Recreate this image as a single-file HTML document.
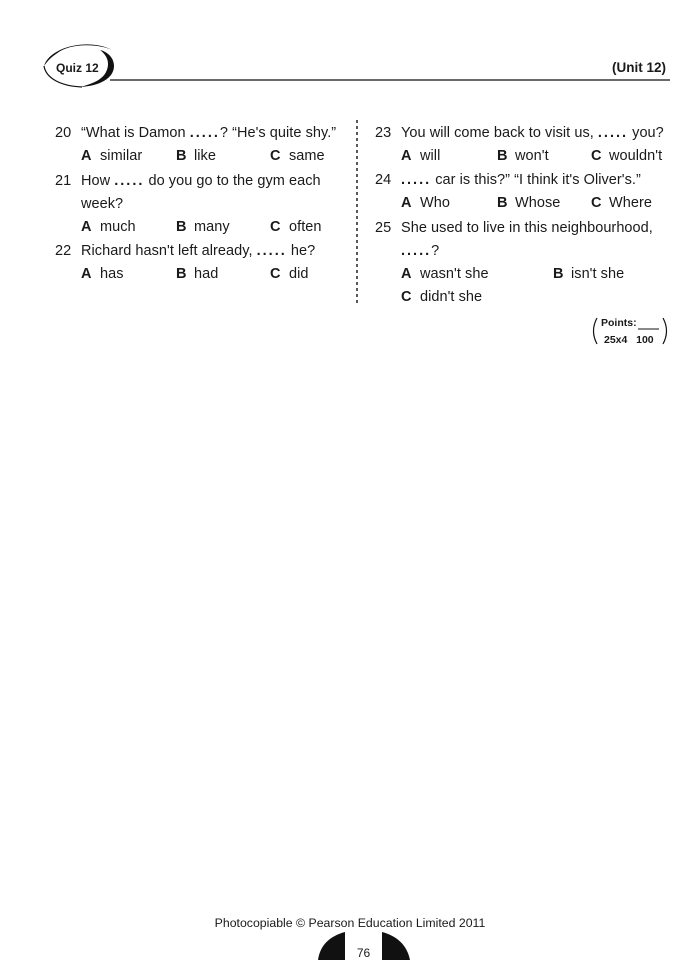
<!DOCTYPE html>
<html><head><meta charset="utf-8"><style>
html,body{margin:0;padding:0;background:#fff;}
body{width:700px;height:960px;position:relative;overflow:hidden;font-family:"Liberation Sans",Arial,sans-serif;color:#1a1a1a;}
.t{position:absolute;font-size:14.5px;letter-spacing:0.05px;white-space:nowrap;line-height:18px;}
b{font-weight:bold;}
.d{font-weight:bold;letter-spacing:2px;}
</style></head><body>
<svg width="700" height="960" style="position:absolute;left:0;top:0">
  <path d="M44 66 C 50 46, 90 38, 112 50 C 100 44, 70 42, 56 54 C 50 58, 47 62, 44 66 Z" fill="#111"/>
  <path d="M80 87 C 100 86, 114 78, 114 66 C 114 58, 108 52, 100 50 C 108 56, 110 64, 106 72 C 102 80, 92 84, 80 87 Z" fill="#111"/>
  <path d="M44 66 C 46 78, 60 86, 82 87" stroke="#111" stroke-width="1.2" fill="none"/>
  <line x1="110" y1="80" x2="670" y2="80" stroke="#111" stroke-width="1.3"/>
  <line x1="357" y1="120" x2="357" y2="305" stroke="#222" stroke-width="1.5" stroke-dasharray="3,3"/>
  <path d="M597 318 Q 590 331 597 344" stroke="#111" fill="none" stroke-width="1.2"/>
  <path d="M663 318 Q 670 331 663 344" stroke="#111" fill="none" stroke-width="1.2"/>
  <line x1="638" y1="329" x2="659" y2="329" stroke="#111" stroke-width="1"/>
  <path d="M318 960 C 320 945, 330 936, 345 932 L 345 960 Z" fill="#111"/>
  <path d="M382 960 L 382 932 C 397 936, 407 945, 410 960 Z" fill="#111"/>
</svg>
<div class="t" style="left:56px;top:59px;font-size:12px;font-weight:bold;letter-spacing:0">Quiz 12</div>
<div class="t" style="left:612px;top:59px;font-size:13.5px;font-weight:bold;letter-spacing:0">(Unit 12)</div>

<div class="t" style="left:55px;top:124px">20</div>
<div class="t" style="left:81px;top:124px">“What is Damon <span class="d">.....</span>? “He's quite shy.”</div>
<div class="t" style="left:81px;top:147px"><b>A</b></div><div class="t" style="left:100px;top:147px">similar</div>
<div class="t" style="left:176px;top:147px"><b>B</b></div><div class="t" style="left:194px;top:147px">like</div>
<div class="t" style="left:270px;top:147px"><b>C</b></div><div class="t" style="left:289px;top:147px">same</div>

<div class="t" style="left:55px;top:172px">21</div>
<div class="t" style="left:81px;top:172px">How <span class="d">.....</span> do you go to the gym each</div>
<div class="t" style="left:81px;top:195px">week?</div>
<div class="t" style="left:81px;top:218px"><b>A</b></div><div class="t" style="left:100px;top:218px">much</div>
<div class="t" style="left:176px;top:218px"><b>B</b></div><div class="t" style="left:194px;top:218px">many</div>
<div class="t" style="left:270px;top:218px"><b>C</b></div><div class="t" style="left:289px;top:218px">often</div>

<div class="t" style="left:55px;top:242px">22</div>
<div class="t" style="left:81px;top:242px">Richard hasn't left already, <span class="d">.....</span> he?</div>
<div class="t" style="left:81px;top:265px"><b>A</b></div><div class="t" style="left:100px;top:265px">has</div>
<div class="t" style="left:176px;top:265px"><b>B</b></div><div class="t" style="left:194px;top:265px">had</div>
<div class="t" style="left:270px;top:265px"><b>C</b></div><div class="t" style="left:289px;top:265px">did</div>

<div class="t" style="left:375px;top:124px">23</div>
<div class="t" style="left:401px;top:124px">You will come back to visit us, <span class="d">.....</span> you?</div>
<div class="t" style="left:401px;top:147px"><b>A</b></div><div class="t" style="left:420px;top:147px">will</div>
<div class="t" style="left:497px;top:147px"><b>B</b></div><div class="t" style="left:515px;top:147px">won't</div>
<div class="t" style="left:591px;top:147px"><b>C</b></div><div class="t" style="left:609px;top:147px">wouldn't</div>

<div class="t" style="left:375px;top:171px">24</div>
<div class="t" style="left:401px;top:171px"><span class="d">.....</span> car is this?” “I think it's Oliver's.”</div>
<div class="t" style="left:401px;top:194px"><b>A</b></div><div class="t" style="left:420px;top:194px">Who</div>
<div class="t" style="left:497px;top:194px"><b>B</b></div><div class="t" style="left:515px;top:194px">Whose</div>
<div class="t" style="left:591px;top:194px"><b>C</b></div><div class="t" style="left:609px;top:194px">Where</div>

<div class="t" style="left:375px;top:219px">25</div>
<div class="t" style="left:401px;top:219px">She used to live in this neighbourhood,</div>
<div class="t" style="left:401px;top:242px"><span class="d">.....</span>?</div>
<div class="t" style="left:401px;top:265px"><b>A</b></div><div class="t" style="left:420px;top:265px">wasn't she</div>
<div class="t" style="left:553px;top:265px"><b>B</b></div><div class="t" style="left:571px;top:265px">isn't she</div>
<div class="t" style="left:401px;top:288px"><b>C</b></div><div class="t" style="left:420px;top:288px">didn't she</div>

<div class="t" style="left:601px;top:317px;font-size:10.5px;font-weight:bold;line-height:12px;letter-spacing:0">Points:</div>
<div class="t" style="left:604px;top:334px;font-size:10.5px;font-weight:bold;line-height:12px;letter-spacing:0">25x4&nbsp;&nbsp;&nbsp;100</div>

<div class="t" style="left:0;width:700px;text-align:center;top:914px;font-size:12.3px;letter-spacing:0">Photocopiable © Pearson Education Limited 2011</div>
<div class="t" style="left:0;width:727px;text-align:center;top:944px;font-size:12px;letter-spacing:0">76</div>
</body></html>
